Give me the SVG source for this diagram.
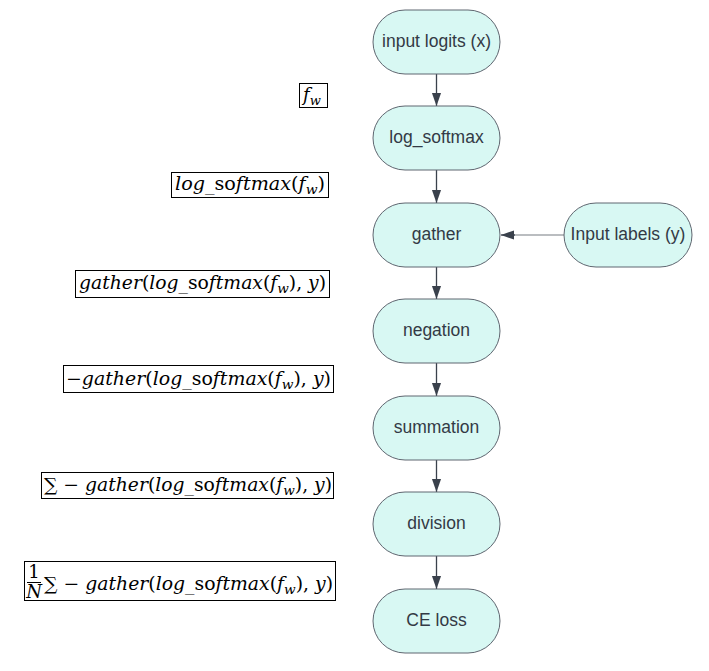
<svg xmlns="http://www.w3.org/2000/svg" width="709" height="671" viewBox="0 0 709 671">
<style>
.node rect{fill:#d8f8f3;stroke:#5f6670;stroke-width:1}
.node text{font-family:"Liberation Sans",Arial,sans-serif;font-size:17.5px;fill:#333a45;text-anchor:middle}
.edge{stroke:#3a414c;stroke-width:1.3;fill:none}
.edge2{stroke:#a3a7ab;stroke-width:1.3;fill:none}
.fbox{fill:#fff;stroke:#000;stroke-width:1}
.ftxt{font-family:"DejaVu Serif","Liberation Serif",serif;font-style:italic;font-size:18px;fill:#000}
.up{font-style:normal}
</style>
<defs>
<marker id="ah2" viewBox="0 0 10 10" refX="10" refY="5" markerWidth="13" markerHeight="13" markerUnits="userSpaceOnUse" orient="auto">
<path d="M0,1.5 L10,5 L0,8.5 z" fill="#3a414c"/>
</marker>
</defs>
<rect width="709" height="671" fill="#fff"/>
<g id="connectors">
<line class="edge" x1="436.5" y1="74" x2="436.5" y2="106" marker-end="url(#ah2)"/>
<line class="edge" x1="436.5" y1="170" x2="436.5" y2="203" marker-end="url(#ah2)"/>
<line class="edge" x1="436.5" y1="267" x2="436.5" y2="299" marker-end="url(#ah2)"/>
<line class="edge" x1="436.5" y1="363" x2="436.5" y2="396" marker-end="url(#ah2)"/>
<line class="edge" x1="436.5" y1="460" x2="436.5" y2="492" marker-end="url(#ah2)"/>
<line class="edge" x1="436.5" y1="556" x2="436.5" y2="589" marker-end="url(#ah2)"/>
<line class="edge2" x1="564" y1="235" x2="514" y2="235"/>
<line class="edge" x1="515" y1="235" x2="501" y2="235" marker-end="url(#ah2)"/>
</g>
<g id="n1" class="node"><rect x="373" y="10" width="127" height="64" rx="32"/><text x="436.5" y="47">input logits (x)</text></g>
<g id="n2" class="node"><rect x="373" y="106" width="127" height="64" rx="32"/><text x="436.5" y="143">log_softmax</text></g>
<g id="n3" class="node"><rect x="373" y="203" width="127" height="64" rx="32"/><text x="436.5" y="240">gather</text></g>
<g id="n4" class="node"><rect x="564" y="203" width="128" height="64" rx="32"/><text x="628" y="240">Input labels (y)</text></g>
<g id="n5" class="node"><rect x="373" y="299" width="127" height="64" rx="32"/><text x="436.5" y="336">negation</text></g>
<g id="n6" class="node"><rect x="373" y="396" width="127" height="64" rx="32"/><text x="436.5" y="433">summation</text></g>
<g id="n7" class="node"><rect x="373" y="492" width="127" height="64" rx="32"/><text x="436.5" y="529">division</text></g>
<g id="n8" class="node"><rect x="373" y="589" width="127" height="64" rx="32"/><text x="436.5" y="626">CE loss</text></g>
<g id="f1"><rect class="fbox" x="299.5" y="83.5" width="28" height="24"/>
<text class="ftxt" x="303" y="101">f<tspan dy="4" font-size="13">w</tspan></text></g>
<g id="f2"><rect class="fbox" x="171.5" y="172.5" width="157" height="25"/>
<text class="ftxt" x="175" y="190" textLength="150" lengthAdjust="spacingAndGlyphs">log_<tspan class="up">so</tspan>ftmax<tspan class="up">(</tspan>f<tspan dy="4" font-size="13">w</tspan><tspan class="up" dy="-4">)</tspan></text></g>
<g id="f3"><rect class="fbox" x="75.5" y="270.5" width="254" height="27"/>
<text class="ftxt" x="79" y="289" textLength="247" lengthAdjust="spacingAndGlyphs">gather<tspan class="up">(</tspan>log_<tspan class="up">so</tspan>ftmax<tspan class="up">(</tspan>f<tspan dy="4" font-size="13">w</tspan><tspan class="up" dy="-4">),</tspan> y<tspan class="up">)</tspan></text></g>
<g id="f4"><rect class="fbox" x="63.5" y="365.5" width="270" height="27"/>
<text class="ftxt" x="66" y="385" textLength="265" lengthAdjust="spacingAndGlyphs"><tspan class="up">−</tspan>gather<tspan class="up">(</tspan>log_<tspan class="up">so</tspan>ftmax<tspan class="up">(</tspan>f<tspan dy="4" font-size="13">w</tspan><tspan class="up" dy="-4">),</tspan> y<tspan class="up">)</tspan></text></g>
<g id="f5"><rect class="fbox" x="41.5" y="472.5" width="292" height="26"/>
<text class="ftxt" x="44" y="491" textLength="288" lengthAdjust="spacingAndGlyphs"><tspan class="up">∑ − </tspan>gather<tspan class="up">(</tspan>log_<tspan class="up">so</tspan>ftmax<tspan class="up">(</tspan>f<tspan dy="4" font-size="13">w</tspan><tspan class="up" dy="-4">),</tspan> y<tspan class="up">)</tspan></text></g>
<g id="f6"><rect class="fbox" x="24.5" y="561.5" width="311" height="39"/>
<text class="ftxt up" x="34" y="578" text-anchor="middle" font-style="normal">1</text>
<line x1="27" y1="582.5" x2="41" y2="582.5" stroke="#000" stroke-width="1"/>
<text class="ftxt" x="34" y="598" text-anchor="middle">N</text>
<text class="ftxt" x="44" y="590" textLength="289" lengthAdjust="spacingAndGlyphs"><tspan class="up">∑ − </tspan>gather<tspan class="up">(</tspan>log_<tspan class="up">so</tspan>ftmax<tspan class="up">(</tspan>f<tspan dy="4" font-size="13">w</tspan><tspan class="up" dy="-4">),</tspan> y<tspan class="up">)</tspan></text></g>
</svg>
